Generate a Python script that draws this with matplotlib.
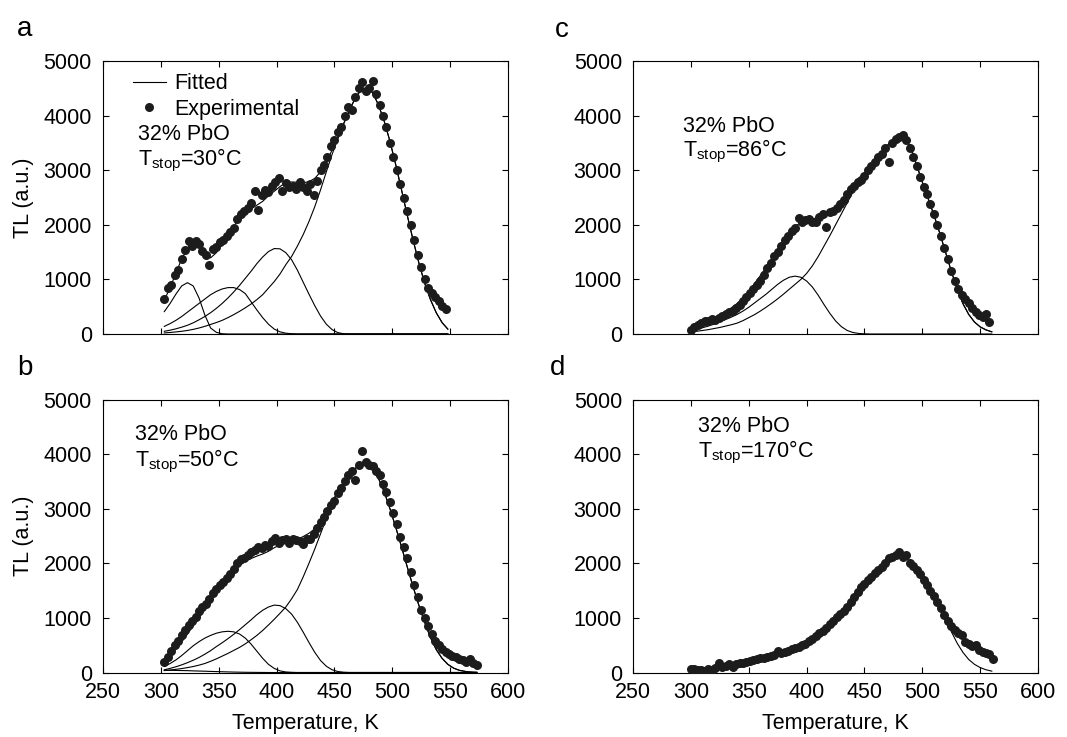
import matplotlib
matplotlib.use('Agg')
import matplotlib.pyplot as plt
import numpy as np

plt.rcParams['font.family'] = ['Liberation Sans', 'DejaVu Sans']
plt.rcParams['mathtext.fontset'] = 'custom'
plt.rcParams['mathtext.rm'] = 'Liberation Sans'
plt.rcParams['font.size'] = 15.5

# ---------------- panel a (Tstop = 30 C) ----------------
a_fit_T = list(range(303, 549, 5))
a_peak1 = [410, 560, 730, 880, 940, 880, 660, 350, 110, 30, 5] + [0] * 39
a_peak2 = [140, 190, 250, 320, 400, 480, 560, 640, 720, 780,
           825, 850, 850, 815, 740, 590, 440, 300, 180, 90,
           40, 15, 5] + [0] * 27
a_peak3 = [50, 70, 95, 125, 160, 205, 260, 320, 390, 470,
           560, 660, 770, 890, 1020, 1150, 1290, 1410, 1510, 1565,
           1560, 1490, 1360, 1170, 950, 730, 520, 330, 180, 80,
           25, 5] + [0] * 18
a_main = [20, 28, 38, 50, 65, 85, 110, 140, 175, 210,
          250, 300, 355, 415, 480, 550, 630, 720, 840, 960,
          1100, 1270, 1420, 1610, 1820, 2060, 2330, 2640, 2970, 3290,
          3580, 3850, 4100, 4320, 4470, 4510, 4420, 4200, 3900, 3530,
          3100, 2640, 2170, 1720, 1300, 930, 630, 390, 210, 90]
a_exp_T = list(range(303, 547, 3))
a_exp = [640, 850, 900, 1080, 1180, 1380, 1530, 1700, 1620, 1700,
         1640, 1520, 1440, 1270, 1560, 1600, 1680, 1730, 1800, 1870,
         1950, 2100, 2200, 2250, 2300, 2400, 2620, 2280, 2550, 2640,
         2600, 2720, 2780, 2850, 2620, 2760, 2700, 2720, 2650, 2780,
         2700, 2620, 2740, 2540, 2800, 3000, 3100, 3250, 3450, 3550,
         3700, 3800, 4000, 4150, 4100, 4350, 4500, 4620, 4450, 4500,
         4640, 4400, 4200, 4000, 3800, 3500, 3250, 3000, 2750, 2500,
         2250, 2000, 1720, 1450, 1220, 1000, 850, 760, 680, 600,
         520, 450]

# ---------------- panel b (Tstop = 50 C) ----------------
b_fit_T = list(range(303, 574, 5))
b_peak0 = [40, 40, 38, 36, 34, 30, 27, 24, 20, 17,
           14, 11, 8, 6, 4, 3, 2, 1] + [0] * 37
b_peak1 = [110, 165, 230, 310, 400, 490, 565, 630, 680, 720,
           745, 755, 745, 705, 630, 520, 390, 260, 150, 75,
           30, 10, 3] + [0] * 32
b_peak2 = [50, 75, 105, 140, 180, 225, 275, 335, 400, 475,
           545, 620, 700, 785, 875, 965, 1060, 1140, 1200, 1235,
           1225, 1170, 1070, 920, 740, 550, 370, 220, 115, 50,
           18, 5] + [0] * 23
b_main = [35, 45, 58, 72, 90, 110, 135, 165, 205, 250,
          300, 350, 405, 460, 525, 600, 680, 770, 870, 975,
          1085, 1200, 1350, 1520, 1750, 2000, 2260, 2540, 2820, 3080,
          3300, 3480, 3630, 3740, 3800, 3800, 3720, 3560, 3310, 3000,
          2660, 2300, 1930, 1570, 1230, 920, 640, 420, 260, 150,
          80, 40, 20, 8, 3]
b_exp_T = list(range(303, 574, 3))
b_exp = [200, 290, 400, 500, 580, 680, 780, 870, 950, 1020,
         1120, 1200, 1260, 1350, 1450, 1530, 1600, 1650, 1740, 1800,
         1900, 2000, 2080, 2100, 2150, 2200, 2250, 2300, 2280, 2340,
         2320, 2400, 2460, 2380, 2420, 2450, 2380, 2440, 2420, 2400,
         2360, 2440, 2450, 2530, 2650, 2750, 2850, 2950, 3070, 3150,
         3280, 3380, 3500, 3620, 3700, 3520, 3800, 4050, 3850, 3800,
         3780, 3700, 3620, 3450, 3300, 3120, 2930, 2720, 2480, 2300,
         2100, 1850, 1600, 1380, 1150, 1000, 850, 700, 580, 500,
         430, 380, 340, 300, 280, 250, 230, 200, 250, 170,
         140]

# ---------------- panel c (Tstop = 86 C) ----------------
c_fit_T = list(range(300, 561, 5))
c_peak1 = [60, 85, 115, 145, 180, 220, 265, 310, 360, 420,
           490, 570, 650, 730, 820, 910, 985, 1040, 1060, 1040,
           970, 860, 710, 540, 380, 240, 135, 65, 28, 10,
           3] + [0] * 22
c_main = [40, 50, 65, 80, 100, 120, 145, 170, 200, 245,
          300, 355, 420, 490, 565, 645, 730, 820, 910, 1000,
          1110, 1250, 1420, 1610, 1800, 2000, 2200, 2400, 2600, 2760,
          2900, 3060, 3200, 3340, 3460, 3560, 3600, 3580, 3420, 3100,
          2780, 2480, 2180, 1850, 1500, 1150, 830, 560, 360, 220,
          130, 75, 40]
c_exp_T = list(range(300, 559, 3))
c_exp = [80, 120, 170, 200, 230, 240, 270, 260, 300, 330,
         370, 400, 430, 480, 540, 600, 680, 750, 820, 900,
         980, 1080, 1200, 1300, 1420, 1500, 1620, 1720, 1800, 1880,
         1950, 2130, 2050, 2080, 2100, 2060, 2050, 2150, 2200, 1960,
         2230, 2250, 2300, 2380, 2460, 2560, 2650, 2720, 2780, 2820,
         2900, 3000, 3080, 3150, 3250, 3300, 3400, 3150, 3500, 3580,
         3600, 3640, 3560, 3400, 3250, 3080, 2880, 2700, 2560, 2380,
         2200, 2000, 1800, 1580, 1380, 1160, 980, 820, 720, 640,
         560, 480, 400, 350, 320, 370, 220]

# ---------------- panel d (Tstop = 170 C) ----------------
d_fit_T = list(range(300, 561, 5))
d_main = [40, 50, 60, 70, 80, 95, 110, 125, 150, 175,
          200, 230, 260, 290, 320, 350, 385, 420, 460, 500,
          550, 610, 690, 780, 880, 990, 1100, 1220, 1360, 1510,
          1640, 1760, 1870, 1970, 2060, 2120, 2150, 2120, 2030, 1890,
          1720, 1560, 1380, 1180, 970, 750, 540, 370, 240, 150,
          90, 50, 25]
d_exp_T = list(range(300, 562, 3))
d_exp = [60, 70, 40, 50, 30, 60, 40, 90, 170, 100,
         120, 160, 110, 150, 170, 180, 200, 210, 230, 240,
         260, 270, 290, 300, 320, 390, 350, 370, 400, 430,
         440, 470, 510, 530, 580, 620, 660, 720, 760, 820,
         880, 940, 1010, 1080, 1130, 1200, 1290, 1380, 1470, 1560,
         1620, 1700, 1750, 1820, 1880, 1940, 2000, 2100, 2120, 2150,
         2200, 2120, 2150, 2000, 1950, 1880, 1800, 1700, 1600, 1500,
         1400, 1300, 1180, 1060, 950, 850, 770, 720, 680, 560,
         520, 480, 500, 420, 380, 360, 330, 250]

tstop_labels = ['30', '50', '86', '170']


def draw_panel(ax, fit_T, parts, exp_T, exp_tl):
    # single fitted glow peaks
    if len(parts) > 1:
        for p in parts:
            ax.plot(fit_T, p, color='k', lw=0.8)
    total = np.sum(np.array(parts), axis=0)
    ax.plot(fit_T, total, color='k', lw=0.8, label='Fitted', zorder=2)
    ax.plot(exp_T, exp_tl, 'o', color='#1c1c1c', ms=6.5, mew=0,
            label='Experimental', zorder=3)

    ax.set_xlim(250, 600)
    ax.set_ylim(0, 5000)
    ax.set_xticks(range(250, 601, 50))
    ax.set_yticks(range(0, 5001, 1000))
    ax.tick_params(direction='in', top=True, right=True, length=4,
                   width=0.8, labelsize=15.5)
    ax.tick_params(axis='y', pad=8)
    ax.tick_params(axis='x', pad=7)
    for s in ax.spines.values():
        s.set_linewidth(0.8)


fig = plt.figure(figsize=(10.67, 7.37), dpi=100)
w, h = 0.3796, 0.3704
ax_a = fig.add_axes([0.0965, 0.5468, w, h])
ax_c = fig.add_axes([0.5933, 0.5468, w, h])
ax_b = fig.add_axes([0.0965, 0.0875, w, h])
ax_d = fig.add_axes([0.5933, 0.0875, w, h])

draw_panel(ax_a, a_fit_T, [a_peak1, a_peak2, a_peak3, a_main], a_exp_T, a_exp)
draw_panel(ax_b, b_fit_T, [b_peak0, b_peak1, b_peak2, b_main], b_exp_T, b_exp)
draw_panel(ax_c, c_fit_T, [c_peak1, c_main], c_exp_T, c_exp)
draw_panel(ax_d, d_fit_T, [d_main], d_exp_T, d_exp)

for ax in (ax_a, ax_c):
    ax.tick_params(labelbottom=False)
for ax in (ax_b, ax_d):
    ax.set_xlabel('Temperature, K', fontsize=15.5, labelpad=7)
for ax in (ax_a, ax_b):
    ax.set_ylabel('TL (a.u.)', fontsize=15.5, labelpad=7)

ax_a.legend(loc='upper left', bbox_to_anchor=(0.075, 0.955), frameon=False,
            fontsize=15.5, handlelength=1.5, handletextpad=0.4,
            labelspacing=0.2, borderpad=0, borderaxespad=0)

# sample / stop temperature notes
text_pos = [(ax_a, 0.086, 0.711, 0.619), (ax_b, 0.079, 0.853, 0.756),
            (ax_c, 0.124, 0.741, 0.649), (ax_d, 0.161, 0.880, 0.789)]
for (ax, x, y1, y2), ts in zip(text_pos, tstop_labels):
    ax.text(x, y1, '32% PbO', transform=ax.transAxes, fontsize=15.5,
            va='baseline')
    ax.text(x, y2, r'T$_{\mathregular{stop}}$=' + ts + '°C',
            transform=ax.transAxes, fontsize=15.5, va='baseline')

# panel letters
for letter, x, y in [('a', 17, 36), ('c', 555, 37), ('b', 17, 375), ('d', 550, 375)]:
    fig.text(x / 1067, 1 - y / 737, letter, fontsize=20, va='baseline')

fig.savefig('out.png', dpi=100)
